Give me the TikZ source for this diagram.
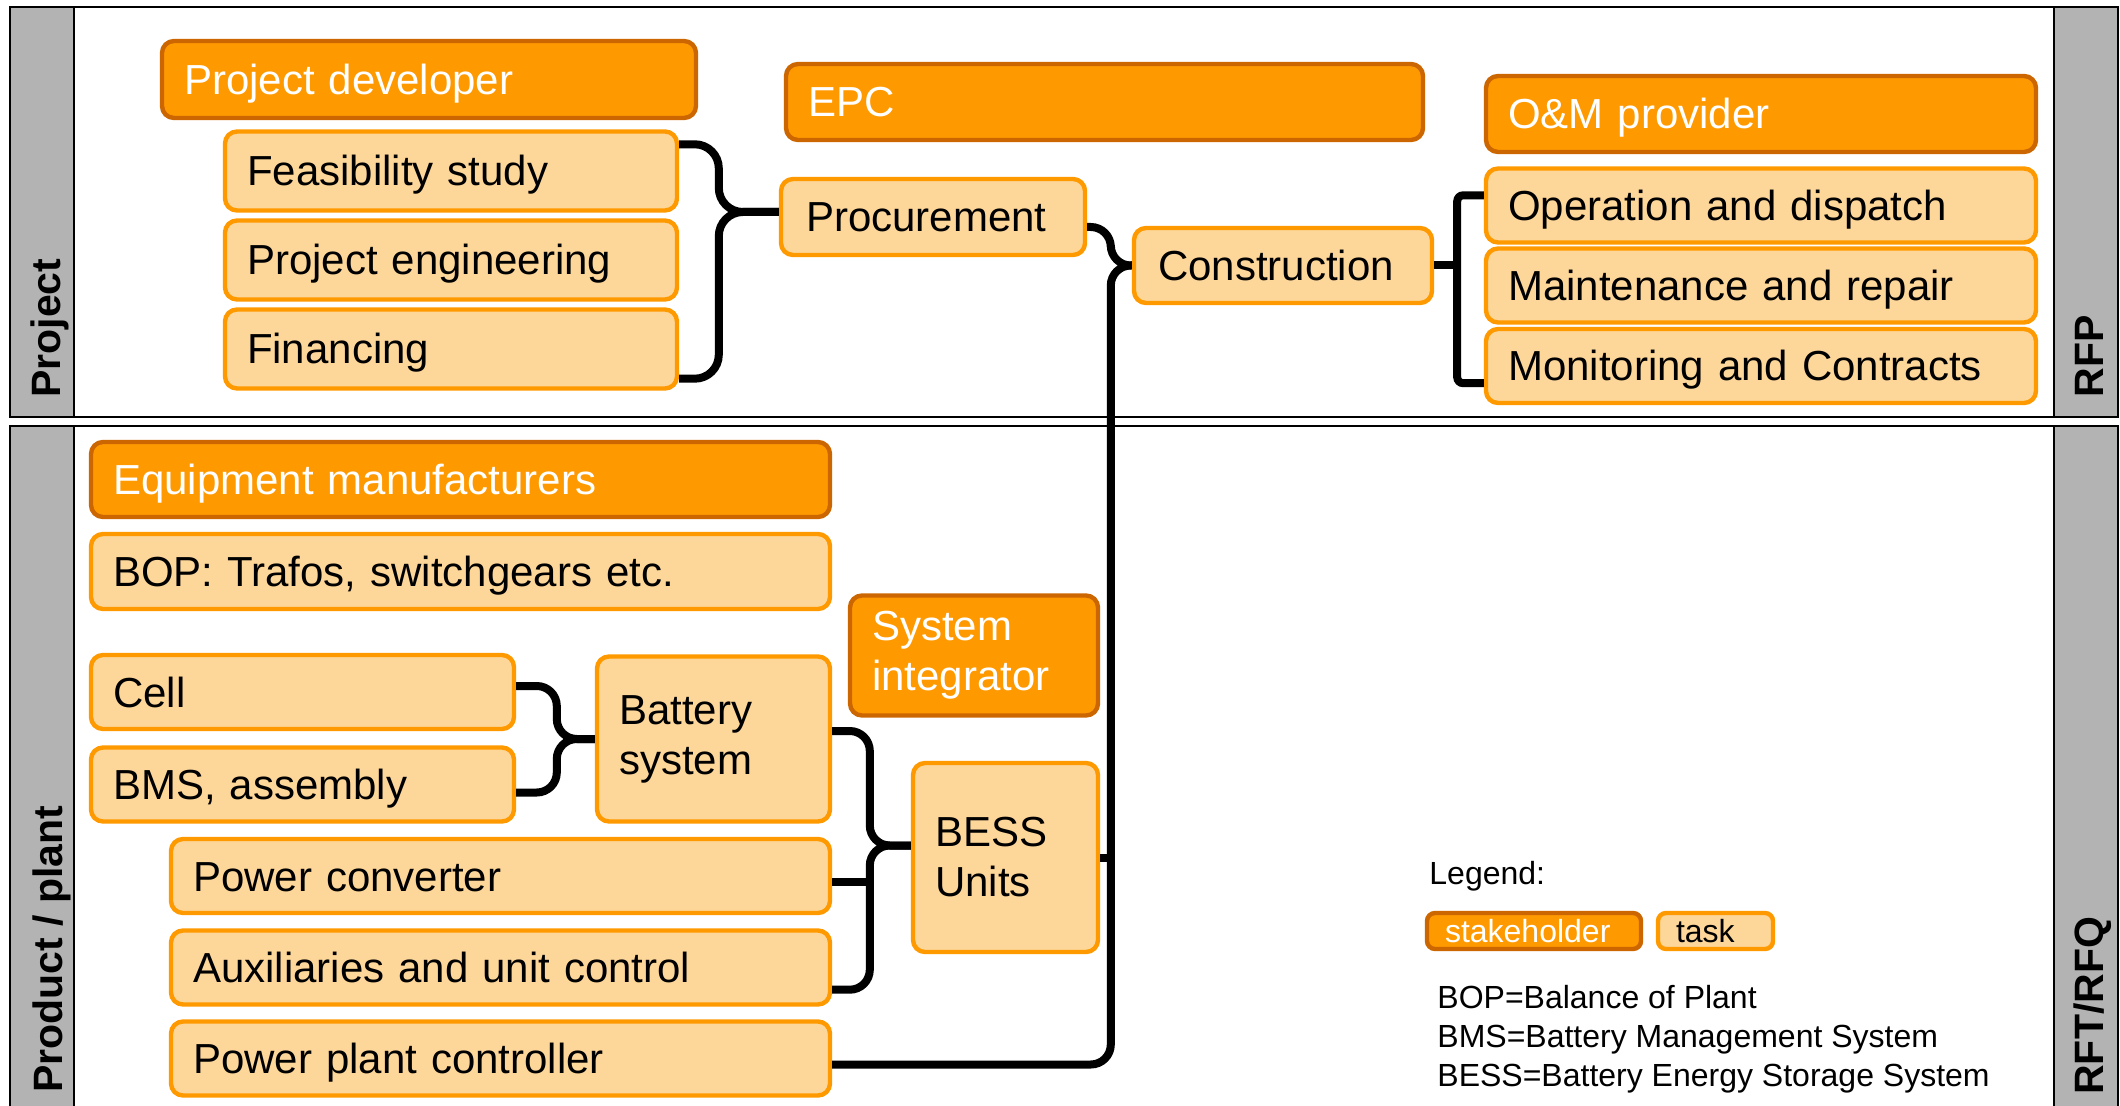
\documentclass[tikz,border=0pt]{standalone}
\usepackage{fontspec}
\setmainfont{Liberation Sans}
\usetikzlibrary{calc}

\definecolor{holderfill}{HTML}{FF9900}
\definecolor{holderline}{HTML}{CC6600}
\definecolor{taskfill}{HTML}{FDD699}
\definecolor{taskline}{HTML}{FF9900}
\definecolor{bandgray}{HTML}{B3B3B3}

\newcommand\boxfont{\fontsize{21}{25}\selectfont}
\newcommand\legfont{\fontsize{16}{19.5}\selectfont}
\newcommand\sidefont{\fontsize{20.5}{24}\selectfont\bfseries}

\tikzset{
  holder/.style={draw=holderline, fill=holderfill, line width=2.2pt, rounded corners=6pt,
    text=white, font=\boxfont, inner xsep=11pt, inner ysep=0pt, align=left,
    text height=16.8pt, text depth=1.8pt},
  task/.style={draw=taskline, fill=taskfill, line width=2.2pt, rounded corners=6pt,
    text=black, font=\boxfont, inner xsep=11pt, inner ysep=0pt, align=left,
    text height=16.8pt, text depth=1.8pt},
  twoline/.style={text height=, text depth=},
  legbox/.style={font=\legfont, inner xsep=9pt, minimum height=18pt, rounded corners=4pt,
    text height=12.8pt, text depth=1.4pt},
  link/.style={line width=4pt, black, rounded corners=10pt},
  band/.style={fill=bandgray, draw=black, line width=1.2pt},
  side/.style={rotate=90, anchor=base west, inner sep=0pt, font=\sidefont},
}

\begin{document}
\begin{tikzpicture}[x=0.5pt,y=-0.5pt]
\useasboundingbox (0,0) rectangle (2120,1106);

% panels with side bands
\draw[line width=1.2pt] (10,7) rectangle (2118,417);
\filldraw[band] (10,7) rectangle (74,417);
\filldraw[band] (2054,7) rectangle (2118,417);
\draw[line width=1.2pt] (10,426) rectangle (2118,1114);
\filldraw[band] (10,426) rectangle (74,1114);
\filldraw[band] (2054,426) rectangle (2118,1114);
\node[side] (lproject) at (60,398) {Project};
\node[side] (lproduct) at (62,1093) {Product / plant};
\node[side] (lrfp) at (2103,398) {RFP};
\node[side] (lrfq) at (2103,1095) {RFT/RFQ};

% project level
\node[holder, text width=245pt, minimum height=38.5pt] (dev) at (429,79.5) {Project developer};
\node[task, text width=204pt, minimum height=39.5pt] (feas) at (451,171) {Feasibility study};
\node[task, text width=204pt, minimum height=39.5pt] (eng) at (451,260) {Project engineering};
\node[task, text width=204pt, minimum height=39.5pt] (fin) at (451,349) {Financing};
\node[holder, text width=296.5pt, minimum height=38pt] (epc) at (1104.5,102) {EPC};
\node[task, text width=127pt, minimum height=38pt, inner xsep=12.5pt] (proc) at (933,217) {Procurement};
\node[task, text width=125pt, minimum height=37.5pt, inner xsep=12pt] (cons) at (1283,265.5) {Construction};
\node[holder, text width=253pt, minimum height=38pt] (om) at (1761,114) {O\&M provider};
\node[task, text width=253pt, minimum height=37pt] (op) at (1761,205.5) {Operation and dispatch};
\node[task, text width=253pt, minimum height=37pt] (maint) at (1761,285.5) {Maintenance and repair};
\node[task, text width=253pt, minimum height=37pt] (mon) at (1761,366) {Monitoring and Contracts};

% product / plant level
\node[holder, text width=347.5pt, minimum height=37.5pt] (equip) at (460.5,479.5) {Equipment manufacturers};
\node[task, text width=347.5pt, minimum height=37.5pt] (bop) at (460.5,571.5) {BOP: Trafos, switchgears etc.};
\node[holder, twoline, text width=102pt, minimum height=60pt] (sysint) at (974,655.5) {System\\integrator};
\node[task, text width=189.5pt, minimum height=37pt] (cell) at (302.5,692) {Cell};
\node[task, text width=189.5pt, minimum height=37pt] (bms) at (302.5,784.5) {BMS, assembly};
\node[task, twoline, text width=94.5pt, minimum height=82.5pt] (batt) at (713.5,739) {Battery\\system};
\node[task, twoline, text width=70.5pt, minimum height=94.5pt] (bess) at (1005.5,857.5) {BESS\\Units};
\node[task, text width=307.5pt, minimum height=37pt] (pconv) at (500.5,876) {Power converter};
\node[task, text width=307.5pt, minimum height=37pt] (aux) at (500.5,967.5) {Auxiliaries and unit control};
\node[task, text width=307.5pt, minimum height=37pt] (ppc) at (500.5,1058.5) {Power plant controller};

% braces and links
\coordinate (trunk) at ($(cons.west)+(-21,0)$);
\draw[link, rounded corners=12pt] ($(feas.north east)+(0,15)$) -| ($(proc.west)+(-60,-5)$) -- ($(proc.west)+(0,-5)$);
\draw[link, rounded corners=12pt] ($(fin.south east)+(0,-12)$) -| ($(proc.west)+(-60,-5)$) -- ($(proc.west)+(0,-5)$);
\draw[link, rounded corners=10pt] ($(proc.east)+(0,10)$) -| (trunk) -- (cons.west);
\draw[link, rounded corners=10pt] ($(ppc.east)+(0,6)$) -| (trunk) -- (cons.west);
\coordinate (omx) at ($(cons.east)+(23,0)$);
\draw[link, rounded corners=3pt] ($(op.north west)+(0,29)$) -| (omx) |- ($(mon.south west)+(0,-22)$);
\draw[link] (cons.east) -- (omx);
\draw[link] ($(bop.east)+(0,-8)$) -- ($(bop.east)+(0,-8)$ -| trunk);
\draw[link] (bess.east) -- (bess.east -| trunk);
\draw[link, rounded corners=10pt] ($(cell.east)+(0,-6)$) -| ($(batt.west)+(-38,0)$) -- (batt.west);
\draw[link, rounded corners=10pt] ($(bms.east)+(0,8)$) -| ($(batt.west)+(-38,0)$) -- (batt.west);
\draw[link, rounded corners=10pt] ($(batt.east)+(0,-8)$) -| ($(bess.west)+(-41,-12)$) -- ($(bess.west)+(0,-12)$);
\draw[link, rounded corners=10pt] ($(aux.south east)+(0,-17)$) -| ($(bess.west)+(-41,-12)$) -- ($(bess.west)+(0,-12)$);
\draw[link] ($(pconv.east)+(0,6)$) -- ($(pconv.east)+(41,6)$);

% legend
\node[anchor=base west, inner sep=0pt, font=\legfont] (legtitle) at (1429,884.5) {Legend:};
\node[holder, legbox, text width=89pt] (legholder) at (1534,931) {stakeholder};
\node[task, legbox, text width=39.5pt] (legtask) at (1715.5,931) {task};
\node[anchor=base west, inner sep=0pt, font=\legfont] (abbrbop) at (1437,1008.5) {BOP=Balance of Plant};
\node[anchor=base west, inner sep=0pt, font=\legfont] (abbrbms) at (1437,1047.5) {BMS=Battery Management System};
\node[anchor=base west, inner sep=0pt, font=\legfont] (abbrbess) at (1437,1086.5) {BESS=Battery Energy Storage System};
\end{tikzpicture}
\end{document}
